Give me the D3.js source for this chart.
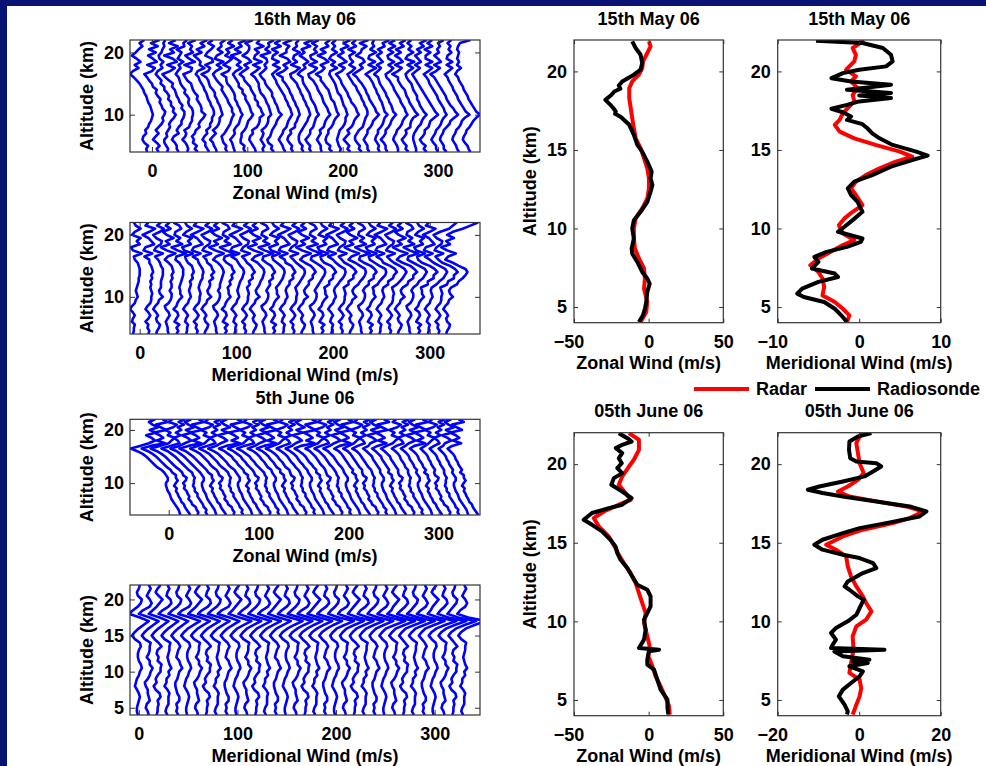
<!DOCTYPE html>
<html>
<head>
<meta charset="utf-8">
<script src="https://cdn.jsdelivr.net/npm/d3@7"></script>
<style>
  body { margin: 0; background: #081374; }
  svg text { font-family: "Liberation Sans", Arial, sans-serif; font-weight: bold; font-size: 18px; fill: #000; }
</style>
</head>
<body>
<svg id="chart" width="986" height="766"></svg>
<script>
// altitude grid of the stacked radar profiles (km)
var levels = [4,4.5,5,5.5,6,6.5,7,7.5,8,8.5,9,9.5,10,10.5,11,11.5,12,12.5,13,13.5,14,14.5,15,15.5,16,16.5,17,17.5,18,18.5,19,19.5,20,20.5,21,21.5,22];
// each profile is shifted by this much (m/s) from the previous one
var stackStep = 10;

// 16th May 06, zonal wind, one row per profile (m/s at each level)
var zonal16May = [
  [-5,-6,-4,-8,-10,-9,-6,-7,-4,-3,-1,0,1,0,-1,-2,-4,-5,-6,-8,-9,-11,-13,-16,-19,-23,-20,-14,-18,-12,-16,-21,-17,-14,-10,-13,-8],
  [-3,-5,-2,-5,-9,-6,-3,-6,-3,0,2,1,3,4,1,0,-2,-1,-4,-6,-5,-9,-10,-13,-15,-18,-10,-7,-15,-5,-9,-14,-6,-13,-4,-11,-2],
  [-4,-3,-5,-7,-7,-4,-5,-3,-1,-2,0,3,5,2,3,0,0,-3,-2,-4,-7,-7,-11,-10,-13,-16,-14,-9,-11,-8,-12,-13,-10,-9,-7,-8,-6],
  [-2,-4,-4,-6,-9,-7,-2,-4,-2,1,1,3,4,4,1,2,-1,-2,-4,-5,-6,-9,-8,-12,-16,-19,-11,-6,-14,-4,-8,-17,-7,-11,-3,-12,-5],
  [-3,-2,-3,-5,-8,-5,-4,-6,-1,0,2,2,3,3,2,-1,-2,-1,-3,-6,-5,-8,-10,-11,-12,-15,-13,-10,-12,-7,-13,-11,-9,-14,-6,-7,-3],
  [-2,-5,-3,-7,-6,-8,-5,-4,0,-1,1,4,6,2,2,1,-1,-3,-2,-5,-7,-8,-9,-13,-15,-17,-9,-8,-16,-5,-11,-15,-7,-10,-8,-12,-4],
  [0,-2,-4,-4,-7,-5,-2,-3,1,1,3,3,5,5,4,2,1,-1,-2,-3,-5,-6,-8,-10,-11,-14,-12,-5,-10,-9,-12,-16,-8,-13,-5,-9,-2],
  [-2,-3,-5,-6,-9,-6,-3,-6,-2,0,1,1,4,3,2,1,-1,-2,-4,-4,-6,-9,-10,-11,-13,-18,-11,-9,-14,-6,-7,-14,-12,-8,-5,-11,-6],
  [-1,-3,-2,-5,-6,-7,-4,-2,0,2,3,4,6,4,4,2,0,-1,-3,-5,-7,-6,-9,-12,-14,-16,-13,-7,-12,-5,-14,-12,-6,-11,-7,-8,-3],
  [-3,-4,-5,-6,-8,-5,-3,-4,-2,1,2,3,5,3,2,0,-1,-3,-3,-4,-6,-8,-11,-12,-12,-17,-10,-8,-15,-10,-6,-13,-9,-12,-4,-10,-5],
  [-2,-4,-3,-7,-7,-6,-6,-3,-1,0,1,4,6,4,3,2,0,-2,-2,-5,-5,-9,-9,-11,-13,-15,-12,-6,-11,-7,-12,-17,-7,-13,-6,-9,-1],
  [-1,-2,-4,-6,-8,-7,-4,-5,0,2,3,3,7,5,4,1,1,-2,-2,-4,-6,-7,-10,-13,-14,-18,-14,-9,-13,-6,-9,-15,-10,-8,-8,-12,-4],
  [-3,-4,-2,-4,-6,-4,-3,-5,-1,1,2,2,5,4,3,2,0,-1,-3,-6,-7,-8,-8,-10,-12,-16,-11,-7,-14,-5,-13,-12,-8,-12,-3,-10,-7],
  [-2,-5,-4,-8,-9,-6,-5,-4,-2,0,1,3,6,3,2,1,-1,-2,-4,-4,-6,-9,-11,-12,-15,-17,-13,-10,-12,-9,-10,-16,-6,-11,-7,-8,-2],
  [0,-2,-3,-5,-7,-5,-3,-2,1,2,3,5,7,6,5,3,2,0,-1,-3,-5,-7,-9,-10,-12,-14,-10,-6,-13,-7,-14,-13,-8,-14,-5,-11,-5],
  [-2,-4,-3,-6,-8,-7,-4,-5,0,0,2,3,5,4,3,1,0,-2,-3,-5,-6,-8,-10,-13,-13,-19,-12,-8,-12,-5,-8,-16,-9,-9,-6,-12,-3],
  [-1,-3,-2,-5,-6,-6,-5,-3,-1,1,3,4,6,5,4,2,1,-1,-2,-4,-5,-7,-8,-11,-14,-15,-9,-5,-14,-8,-12,-11,-5,-12,-8,-9,-6],
  [-3,-5,-4,-7,-9,-6,-4,-4,-1,0,1,2,5,3,2,1,-1,-3,-4,-5,-7,-9,-11,-12,-12,-17,-14,-9,-11,-6,-10,-15,-10,-13,-4,-10,-1],
  [-2,-3,-3,-5,-7,-5,-3,-4,0,1,2,4,7,5,4,2,0,-1,-2,-4,-6,-7,-9,-11,-15,-16,-10,-7,-15,-7,-13,-14,-7,-10,-7,-12,-5],
  [-1,-4,-3,-7,-8,-7,-5,-5,-2,0,1,3,6,4,3,2,1,-2,-3,-4,-5,-8,-10,-13,-13,-18,-12,-9,-13,-5,-9,-16,-8,-13,-5,-8,-3],
  [-3,-2,-4,-5,-6,-5,-4,-3,0,2,3,3,5,4,3,1,0,-1,-2,-5,-6,-7,-8,-10,-12,-14,-13,-6,-12,-8,-14,-12,-6,-11,-8,-11,-7],
  [-2,-5,-3,-6,-9,-6,-3,-5,-1,1,2,4,7,5,4,2,-1,-2,-4,-5,-7,-9,-11,-12,-14,-17,-11,-8,-14,-6,-10,-15,-9,-12,-4,-9,-2],
  [0,-3,-2,-5,-7,-7,-5,-3,1,2,3,4,6,6,5,3,2,0,-1,-3,-5,-6,-9,-11,-13,-15,-10,-7,-13,-9,-12,-13,-7,-14,-6,-10,-6],
  [-2,-4,-4,-6,-8,-6,-4,-4,-1,1,2,5,8,5,4,2,0,-2,-3,-5,-6,-8,-10,-13,-15,-19,-14,-9,-12,-7,-9,-16,-11,-10,-5,-12,-3],
  [-1,-3,-2,-4,-6,-5,-3,-3,0,2,3,4,7,4,3,2,1,-1,-2,-4,-5,-7,-8,-10,-12,-16,-11,-5,-13,-6,-13,-12,-5,-11,-7,-9,-7],
  [-3,-5,-5,-7,-10,-7,-5,-5,-2,0,1,3,6,3,2,1,-1,-2,-4,-5,-7,-9,-11,-12,-13,-17,-13,-10,-14,-8,-11,-14,-9,-13,-6,-8,-1],
  [-2,-2,-3,-5,-7,-6,-4,-3,0,2,3,5,8,6,5,3,1,0,-2,-4,-6,-7,-9,-11,-14,-15,-10,-7,-12,-6,-12,-13,-7,-12,-5,-11,-5],
  [-1,-4,-3,-6,-8,-5,-3,-4,1,1,2,4,9,6,4,2,0,-1,-3,-4,-5,-8,-10,-12,-12,-18,-12,-8,-15,-7,-10,-15,-9,-14,-6,-10,-4],
  [-3,-3,-4,-5,-6,-6,-5,-3,-1,2,3,5,8,5,3,1,0,-2,-2,-4,-6,-7,-8,-11,-13,-14,-11,-6,-12,-5,-14,-12,-6,-11,-8,-12,-8],
  [-2,-5,-3,-7,-9,-6,-4,-4,0,1,2,6,10,7,5,3,1,-1,-3,-5,-7,-9,-11,-13,-15,-17,-13,-9,-14,-8,-11,-14,-8,-12,-5,-9,-2],
  [0,-2,-2,-5,-7,-5,-3,-2,1,3,4,6,9,7,6,4,2,0,-1,-3,-5,-7,-9,-10,-12,-15,-10,-6,-13,-6,-13,-13,-8,-14,-6,-11,-6],
  [-1,-4,-4,-6,-8,-7,-5,-4,-1,2,3,7,11,8,6,3,1,-1,-2,-4,-6,-8,-10,-12,-14,-18,-12,-8,-14,-7,-10,-14,-9,-11,-8,-10,-4],
  [2,0,-1,-3,-5,-4,-2,-1,2,4,5,8,13,9,7,5,3,1,0,-2,-4,-5,-7,-9,-10,-13,-9,-5,-11,-5,-11,-10,-6,-9,-7,-10,-6],
  [4,2,1,-2,-4,-3,-1,0,3,5,7,10,14,10,8,6,4,2,1,-1,-3,-4,-6,-8,-9,-12,-10,-6,-10,-8,-10,-9,-8,-10,-9,-7,4]
];

// 16th May 06, meridional wind
var meridional16May = [
  [-7,-6,-6,-5,-8,-7,-5,-7,-10,-8,-5,-4,-2,-3,-4,-3,-2,-1,-1,0,0,0,-1,-2,-5,-6,2,-7,-9,0,-3,1,-8,-5,1,-4,-6],
  [-1,0,-2,-1,-4,-1,1,-1,-4,-2,1,2,2,3,2,1,2,1,3,2,4,3,2,0,0,-5,3,-6,-4,5,2,-1,-7,0,6,-4,-1],
  [-3,-2,0,1,-2,-3,-1,-3,-6,-4,-1,0,4,1,0,2,2,2,3,4,4,4,2,1,-1,-4,4,-5,-3,2,3,-3,-6,1,5,-2,2],
  [0,-1,-1,-2,-3,-1,1,0,-3,-4,0,2,3,3,1,3,3,2,4,3,5,4,3,0,-4,-1,7,-2,-8,1,-3,5,-2,-6,2,-3,1],
  [-2,0,-2,1,-4,-2,0,-1,-5,-2,-1,1,4,2,2,1,2,3,4,5,5,5,3,1,-3,-2,8,-1,-7,4,-2,2,-4,-3,3,1,-5],
  [-2,-1,-1,0,-3,-2,0,-2,-5,-3,0,1,3,2,1,2,3,2,5,4,6,5,4,0,-2,-3,5,-4,-6,3,0,4,-5,-2,4,-1,-3],
  [-1,0,-2,-1,-4,-1,1,-1,-4,-2,1,2,2,3,2,1,2,3,5,5,6,5,3,1,0,-5,3,-6,-4,5,2,-1,-7,0,6,-4,-1],
  [-3,-2,0,1,-2,-3,-1,-3,-6,-4,-1,0,4,1,0,2,3,2,6,4,7,5,4,0,-1,-4,4,-5,-3,2,3,-3,-6,1,5,-2,2],
  [0,-1,-1,-2,-3,-1,1,0,-3,-4,0,2,3,3,1,3,3,4,5,6,7,6,4,1,-4,-1,7,-2,-8,1,-3,5,-2,-6,2,-3,1],
  [-2,0,-2,1,-4,-2,0,-1,-5,-2,-1,1,4,2,2,1,4,3,6,5,8,6,5,0,-3,-2,8,-1,-7,4,-2,2,-4,-3,3,1,-5],
  [-2,-1,-1,0,-3,-2,0,-2,-5,-3,0,1,3,2,1,2,3,4,6,7,8,7,4,2,0,-5,3,-6,-4,5,2,-1,-7,0,6,-4,-1],
  [-1,0,-2,-1,-4,-1,1,-1,-4,-2,1,2,2,3,2,1,4,3,7,6,9,7,5,1,-1,-4,4,-5,-3,2,3,-3,-6,1,5,-2,2],
  [-3,-2,0,1,-2,-3,-1,-3,-6,-4,-1,0,4,1,0,2,4,5,7,8,9,8,5,2,-4,-1,7,-2,-8,1,-3,5,-2,-6,2,-3,1],
  [0,-1,-1,-2,-3,-1,1,0,-3,-4,0,2,3,3,1,3,5,4,8,7,10,8,6,1,-3,-2,8,-1,-7,4,-2,2,-4,-3,3,1,-5],
  [-2,0,-2,1,-4,-2,0,-1,-5,-2,-1,1,4,2,2,1,4,6,8,9,10,9,6,2,-2,-3,5,-4,-6,3,0,4,-5,-2,4,-1,-3],
  [-2,-1,-1,0,-3,-2,0,-2,-5,-3,0,1,3,2,1,2,5,5,9,8,11,9,7,1,0,-5,3,-6,-4,5,2,-1,-7,0,6,-4,-1],
  [-1,0,-2,-1,-4,-1,1,-1,-4,-2,1,2,2,3,2,1,4,6,8,10,11,10,6,2,-1,-4,4,-5,-3,2,3,-3,-6,1,5,-2,2],
  [-3,-2,0,1,-2,-3,-1,-3,-6,-4,-1,0,4,1,0,2,5,5,9,9,12,10,7,1,-4,-1,7,-2,-8,1,-3,5,-2,-6,2,-3,1],
  [0,-1,-1,-2,-3,-1,1,0,-3,-4,0,2,3,3,1,3,5,7,9,11,12,11,7,2,-3,-2,8,-1,-7,4,-2,2,-4,-3,3,1,-5],
  [-2,0,-2,1,-4,-2,0,-1,-5,-2,-1,1,4,2,2,1,6,6,10,10,13,11,8,1,-2,-3,5,-4,-6,3,0,4,-5,-2,4,-1,-3],
  [-2,-1,-1,0,-3,-2,0,-2,-5,-3,0,1,3,2,1,2,5,7,10,12,13,12,7,3,0,-5,3,-6,-4,5,2,-1,-7,0,6,-4,-1],
  [-1,0,-2,-1,-4,-1,1,-1,-4,-2,1,2,2,3,2,1,6,6,11,11,14,12,8,2,-1,-4,4,-5,-3,2,3,-3,-6,1,5,-2,2],
  [-3,-2,0,1,-2,-3,-1,-3,-6,-4,-1,0,4,1,0,2,6,8,11,13,14,13,8,3,-4,-1,7,-2,-8,1,-3,5,-2,-6,2,-3,1],
  [0,-1,-1,-2,-3,-1,1,0,-3,-4,0,2,3,3,1,3,7,7,12,12,15,13,9,2,-3,-2,8,-1,-7,4,-2,2,-4,-3,3,1,-5],
  [-2,0,-2,1,-4,-2,0,-1,-5,-2,-1,1,4,2,2,1,6,8,11,14,15,14,8,3,-2,-3,5,-4,-6,3,0,4,-5,-2,4,-1,-3],
  [-2,-1,-1,0,-3,-2,0,-2,-5,-3,0,1,3,2,1,2,7,7,12,13,16,14,9,2,0,-5,3,-6,-4,5,2,-1,-7,0,6,-4,-1],
  [-1,0,-2,-1,-4,-1,1,-1,-4,-2,1,2,2,3,2,1,6,9,12,14,16,14,9,3,-1,-4,4,-5,-3,2,3,-3,-6,1,5,-2,2],
  [-3,-2,0,1,-2,-3,-1,-3,-6,-4,-1,0,4,1,0,2,7,8,13,13,17,14,10,2,-4,-1,7,-2,-8,1,-3,5,-2,-6,2,-3,1],
  [0,-1,-1,-2,-3,-1,1,0,-3,-4,0,2,3,3,1,3,7,9,13,15,17,15,9,3,-3,-2,8,-1,-7,4,-2,2,-4,-3,3,1,-5],
  [-2,0,-2,1,-4,-2,0,-1,-5,-2,-1,1,4,2,2,1,8,8,14,14,18,15,10,2,-2,-3,5,-4,-6,3,0,4,-5,-2,4,-1,-3],
  [-2,-1,-1,0,-3,-2,0,-2,-5,-3,0,1,3,2,1,2,7,10,14,16,18,16,10,4,0,-5,3,-6,-4,5,2,-1,-7,0,6,-4,-1],
  [-1,0,-2,-1,-4,-1,1,-1,-4,-2,1,2,2,3,2,1,8,9,15,15,19,16,11,3,-1,-4,4,-5,-3,2,3,-3,-6,1,10,14,18],
  [-3,-2,0,1,-2,-3,-1,-3,-6,-4,-1,0,4,1,0,2,8,10,14,17,19,17,10,4,-4,-1,7,-2,-8,1,-3,5,-2,4,14,22,30]
];

// 5th June 06, zonal wind
var zonal5June = [
  [13,12,11,9,7,5,3,2,1,-1,-2,-3,-3,-1,-1,-3,-5,-8,-13,-16,-19,-22,-25,-29,-35,-42,-32,-22,-15,-19,-25,-14,-21,-12,-18,-22,-15],
  [14,12,10,8,7,4,3,1,0,-2,-1,-4,-2,0,-2,-2,-6,-8,-12,-15,-18,-21,-24,-28,-33,-40,-30,-14,-23,-16,-20,-26,-13,-19,-24,-11,-17],
  [12,13,11,10,6,5,2,3,1,0,-3,-2,-4,-1,0,-4,-5,-8,-12,-15,-18,-21,-24,-28,-33,-40,-30,-20,-17,-13,-21,-18,-24,-15,-11,-20,-16],
  [13,11,12,9,8,6,4,2,2,-1,-1,-3,-2,-2,-1,-3,-4,-8,-11,-14,-17,-20,-23,-27,-31,-38,-28,-18,-20,-24,-17,-22,-16,-20,-13,-19,-12],
  [13,12,11,9,7,5,3,2,1,-1,-2,-3,-3,-1,-1,-3,-5,-8,-11,-14,-17,-20,-23,-27,-31,-38,-28,-22,-15,-19,-25,-14,-21,-12,-18,-22,-15],
  [14,12,10,8,7,4,3,1,0,-2,-1,-4,-2,0,-2,-2,-6,-8,-11,-14,-17,-20,-23,-27,-31,-38,-28,-14,-23,-16,-20,-26,-13,-19,-24,-11,-17],
  [12,13,11,10,6,5,2,3,1,0,-3,-2,-4,-1,0,-4,-5,-7,-11,-14,-16,-19,-22,-25,-30,-36,-27,-20,-17,-13,-21,-18,-24,-15,-11,-20,-16],
  [13,11,12,9,8,6,4,2,2,-1,-1,-3,-2,-2,-1,-3,-4,-7,-11,-14,-16,-19,-22,-25,-30,-36,-27,-18,-20,-24,-17,-22,-16,-20,-13,-19,-12],
  [13,12,11,9,7,5,3,2,1,-1,-2,-3,-3,-1,-1,-3,-5,-7,-11,-14,-16,-19,-22,-25,-30,-36,-27,-22,-15,-19,-25,-14,-21,-12,-18,-22,-15],
  [14,12,10,8,7,4,3,1,0,-2,-1,-4,-2,0,-2,-2,-6,-7,-10,-13,-15,-18,-20,-24,-28,-34,-26,-11,-20,-13,-17,-23,-10,-16,-21,-8,-14],
  [12,13,11,10,6,5,2,3,1,0,-3,-2,-4,-1,0,-4,-5,-7,-10,-13,-15,-18,-20,-24,-28,-34,-26,-17,-14,-10,-18,-15,-21,-12,-8,-17,-13],
  [13,11,12,9,8,6,4,2,2,-1,-1,-3,-2,-2,-1,-3,-4,-7,-10,-13,-15,-18,-20,-24,-28,-34,-26,-15,-17,-21,-14,-19,-13,-17,-10,-16,-9],
  [13,12,11,9,7,5,3,2,1,-1,-2,-3,-3,-1,-1,-3,-5,-6,-10,-12,-14,-17,-19,-22,-26,-32,-24,-19,-12,-16,-22,-11,-18,-9,-15,-19,-12],
  [14,12,10,8,7,4,3,1,0,-2,-1,-4,-2,0,-2,-2,-6,-6,-10,-12,-14,-17,-19,-22,-26,-32,-24,-11,-20,-13,-17,-23,-10,-16,-21,-8,-14],
  [12,13,11,10,6,5,2,3,1,0,-3,-2,-4,-1,0,-4,-5,-6,-10,-12,-14,-17,-19,-22,-26,-32,-24,-17,-14,-10,-18,-15,-21,-12,-8,-17,-13],
  [13,11,12,9,8,6,4,2,2,-1,-1,-3,-2,-2,-1,-3,-4,-6,-9,-11,-14,-16,-18,-21,-25,-30,-23,-15,-17,-21,-14,-19,-13,-17,-10,-16,-9],
  [13,12,11,9,7,5,3,2,1,-1,-2,-3,-3,-1,-1,-3,-5,-6,-9,-11,-14,-16,-18,-21,-25,-30,-23,-19,-12,-16,-22,-11,-18,-9,-15,-19,-12],
  [14,12,10,8,7,4,3,1,0,-2,-1,-4,-2,0,-2,-2,-6,-6,-9,-11,-14,-16,-18,-21,-25,-30,-23,-8,-17,-10,-14,-20,-7,-13,-18,-5,-11],
  [12,13,11,10,6,5,2,3,1,0,-3,-2,-4,-1,0,-4,-5,-6,-8,-11,-13,-15,-17,-20,-23,-28,-21,-14,-11,-7,-15,-12,-18,-9,-5,-14,-10],
  [13,11,12,9,8,6,4,2,2,-1,-1,-3,-2,-2,-1,-3,-4,-6,-8,-11,-13,-15,-17,-20,-23,-28,-21,-12,-14,-18,-11,-16,-10,-14,-7,-13,-6],
  [13,12,11,9,7,5,3,2,1,-1,-2,-3,-3,-1,-1,-3,-5,-6,-8,-11,-13,-15,-17,-20,-23,-28,-21,-16,-9,-13,-19,-8,-15,-6,-12,-16,-9],
  [14,12,10,8,7,4,3,1,0,-2,-1,-4,-2,0,-2,-2,-6,-5,-8,-10,-12,-14,-16,-18,-21,-26,-20,-8,-17,-10,-14,-20,-7,-13,-18,-5,-11],
  [12,13,11,10,6,5,2,3,1,0,-3,-2,-4,-1,0,-4,-5,-5,-8,-10,-12,-14,-16,-18,-21,-26,-20,-14,-11,-7,-15,-12,-18,-9,-5,-14,-10],
  [13,11,12,9,8,6,4,2,2,-1,-1,-3,-2,-2,-1,-3,-4,-5,-8,-10,-12,-14,-16,-18,-21,-26,-20,-12,-14,-18,-11,-16,-10,-14,-7,-13,-6],
  [13,12,11,9,7,5,3,2,1,-1,-2,-3,-3,-1,-1,-3,-5,-5,-7,-9,-11,-13,-14,-17,-20,-24,-18,-16,-9,-13,-19,-8,-15,-6,-12,-16,-9],
  [14,12,10,8,7,4,3,1,0,-2,-1,-4,-2,0,-2,-2,-6,-5,-7,-9,-11,-13,-14,-17,-20,-24,-18,-8,-17,-10,-14,-20,-7,-13,-18,-5,-11],
  [12,13,11,10,6,5,2,3,1,0,-3,-2,-4,-1,0,-4,-5,-5,-7,-9,-11,-13,-14,-17,-20,-24,-18,-11,-8,-4,-12,-9,-15,-6,-2,-11,-7],
  [13,11,12,9,8,6,4,2,2,-1,-1,-3,-2,-2,-1,-3,-4,-4,-7,-8,-10,-12,-13,-15,-18,-22,-17,-9,-11,-15,-8,-13,-7,-11,-4,-10,-3],
  [13,12,11,9,7,5,3,2,1,-1,-2,-3,-3,-1,-1,-3,-5,-4,-7,-8,-10,-12,-13,-15,-18,-22,-17,-13,-6,-10,-16,-5,-12,-3,-9,-13,-6],
  [14,12,10,8,7,4,3,1,0,-2,-1,-4,-2,0,-2,-2,-6,-4,-7,-8,-10,-12,-13,-15,-18,-22,-17,-5,-14,-7,-11,-17,-4,-10,-15,-2,-8],
  [12,13,11,10,6,5,2,3,1,0,-3,-2,-4,-1,0,-4,-5,-4,-6,-8,-9,-11,-12,-14,-17,-20,-15,-11,-8,-4,-12,-9,-15,-6,-2,-11,-7],
  [13,11,12,9,8,6,4,2,2,-1,-1,-3,-2,-2,-1,-3,-4,-4,-6,-8,-9,-11,-12,-14,-17,-20,-15,-9,-11,-15,-8,-13,-7,-11,-4,-10,-3],
  [13,12,11,9,7,5,3,2,1,-1,-2,-3,-3,-1,-1,-3,-5,-4,-6,-8,-9,-11,-12,-14,-17,-20,-15,-13,-6,-10,-16,-5,-12,-3,-9,-13,-6],
  [14,12,10,8,7,4,3,1,0,-2,-1,-4,-2,0,-2,-2,-6,-4,-6,-8,-9,-11,-12,-14,-17,-20,-15,-5,-14,-7,-11,-17,-4,-10,-15,-2,-8]
];

// 5th June 06, meridional wind
var meridional5June = [
  [-1,-2,-2,-1,0,1,0,-2,-4,-3,-2,0,1,3,2,0,-1,-1,0,2,1,-4,-7,-4,0,5,10,1,-10,-6,-1,2,3,-1,-2,0,1],
  [0,-1,-3,-2,1,0,-1,-1,-3,-4,-1,1,2,4,1,1,-2,0,1,1,2,-4,-7,-4,0,5,10,1,-10,-6,1,3,1,-2,0,2,0],
  [-2,-1,-1,0,-1,2,1,-3,-5,-2,-3,-1,2,2,3,-1,0,-2,-1,3,0,-4,-7,-4,0,5,10,1,-10,-6,-2,1,4,0,-3,-1,2],
  [-1,-3,-2,0,0,0,1,-1,-4,-2,-2,1,0,3,1,0,-1,0,1,1,2,-4,-7,-4,0,5,10,1,-10,-6,0,3,2,-2,-1,1,-1],
  [0,-2,-1,-2,1,1,-1,-2,-3,-3,-1,0,1,4,2,1,-2,-1,0,2,0,-4,-7,-4,0,5,10,1,-10,-6,-1,2,3,-1,-2,0,1],
  [-1,-2,-2,-1,0,1,0,-2,-4,-3,-2,0,1,3,2,0,-1,-1,0,2,1,-4,-7,-4,0,6,12,2,-10,-6,1,3,1,-2,0,2,0],
  [0,-1,-3,-2,1,0,-1,-1,-3,-4,-1,1,2,4,1,1,-2,0,1,1,2,-4,-7,-4,0,6,12,2,-10,-6,-2,1,4,0,-3,-1,2],
  [-2,-1,-1,0,-1,2,1,-3,-5,-2,-3,-1,2,2,3,-1,0,-2,-1,3,0,-4,-7,-4,0,6,12,2,-10,-6,0,3,2,-2,-1,1,-1],
  [-1,-3,-2,0,0,0,1,-1,-4,-2,-2,1,0,3,1,0,-1,0,1,1,2,-4,-7,-4,0,6,12,2,-10,-6,-1,2,3,-1,-2,0,1],
  [0,-2,-1,-2,1,1,-1,-2,-3,-3,-1,0,1,4,2,1,-2,-1,0,2,0,-4,-7,-4,0,6,12,2,-10,-6,1,3,1,-2,0,2,0],
  [-1,-2,-2,-1,0,1,0,-2,-4,-3,-2,0,1,3,2,0,-1,-1,0,2,1,-4,-7,-4,0,7,14,2,-9,-5,-2,1,4,0,-3,-1,2],
  [0,-1,-3,-2,1,0,-1,-1,-3,-4,-1,1,2,4,1,1,-2,0,1,1,2,-4,-7,-4,0,7,14,2,-9,-5,0,3,2,-2,-1,1,-1],
  [-2,-1,-1,0,-1,2,1,-3,-5,-2,-3,-1,2,2,3,-1,0,-2,-1,3,0,-4,-7,-4,0,7,14,2,-9,-5,-1,2,3,-1,-2,0,1],
  [-1,-3,-2,0,0,0,1,-1,-4,-2,-2,1,0,3,1,0,-1,0,1,1,2,-4,-7,-4,0,7,14,2,-9,-5,1,3,1,-2,0,2,0],
  [0,-2,-1,-2,1,1,-1,-2,-3,-3,-1,0,1,4,2,1,-2,-1,0,2,0,-4,-7,-4,0,7,14,2,-9,-5,-2,1,4,0,-3,-1,2],
  [-1,-2,-2,-1,0,1,0,-2,-4,-3,-2,0,1,3,2,0,-1,-1,0,2,1,-4,-7,-4,1,8,16,3,-9,-5,0,3,2,-2,-1,1,-1],
  [0,-1,-3,-2,1,0,-1,-1,-3,-4,-1,1,2,4,1,1,-2,0,1,1,2,-4,-7,-4,1,8,16,3,-9,-5,-1,2,3,-1,-2,0,1],
  [-2,-1,-1,0,-1,2,1,-3,-5,-2,-3,-1,2,2,3,-1,0,-2,-1,3,0,-4,-7,-4,1,8,16,3,-9,-5,1,3,1,-2,0,2,0],
  [-1,-3,-2,0,0,0,1,-1,-4,-2,-2,1,0,3,1,0,-1,0,1,1,2,-4,-7,-4,1,8,16,3,-9,-5,-2,1,4,0,-3,-1,2],
  [0,-2,-1,-2,1,1,-1,-2,-3,-3,-1,0,1,4,2,1,-2,-1,0,2,0,-4,-7,-4,1,8,16,3,-9,-5,0,3,2,-2,-1,1,-1],
  [-1,-2,-2,-1,0,1,0,-2,-4,-3,-2,0,1,3,2,0,-1,-1,0,2,1,-4,-6,-3,1,9,18,3,-8,-5,-1,2,3,-1,-2,0,1],
  [0,-1,-3,-2,1,0,-1,-1,-3,-4,-1,1,2,4,1,1,-2,0,1,1,2,-4,-6,-3,1,9,18,3,-8,-5,1,3,1,-2,0,2,0],
  [-2,-1,-1,0,-1,2,1,-3,-5,-2,-3,-1,2,2,3,-1,0,-2,-1,3,0,-4,-6,-3,1,9,18,3,-8,-5,-2,1,4,0,-3,-1,2],
  [-1,-3,-2,0,0,0,1,-1,-4,-2,-2,1,0,3,1,0,-1,0,1,1,2,-4,-6,-3,1,9,18,3,-8,-5,0,3,2,-2,-1,1,-1],
  [0,-2,-1,-2,1,1,-1,-2,-3,-3,-1,0,1,4,2,1,-2,-1,0,2,0,-4,-6,-3,1,9,18,3,-8,-5,-1,2,3,-1,-2,0,1],
  [-1,-2,-2,-1,0,1,0,-2,-4,-3,-2,0,1,3,2,0,-1,-1,0,2,1,-3,-6,-3,1,10,20,4,-8,-4,1,3,1,-2,0,2,0],
  [0,-1,-3,-2,1,0,-1,-1,-3,-4,-1,1,2,4,1,1,-2,0,1,1,2,-3,-6,-3,1,10,20,4,-8,-4,-2,1,4,0,-3,-1,2],
  [-2,-1,-1,0,-1,2,1,-3,-5,-2,-3,-1,2,2,3,-1,0,-2,-1,3,0,-3,-6,-3,1,10,20,4,-8,-4,0,3,2,-2,-1,1,-1],
  [-1,-3,-2,0,0,0,1,-1,-4,-2,-2,1,0,3,1,0,-1,0,1,1,2,-3,-6,-3,1,10,20,4,-8,-4,-1,2,3,-1,-2,0,1],
  [0,-2,-1,-2,1,1,-1,-2,-3,-3,-1,0,1,4,2,1,-2,-1,0,2,0,-3,-6,-3,1,10,20,4,-8,-4,1,3,1,-2,0,2,0],
  [-1,-2,-2,-1,0,1,0,-2,-4,-3,-2,0,1,3,2,0,-1,-1,0,2,1,-3,-6,-3,2,11,22,4,-7,-4,-2,1,4,0,-3,-1,2],
  [0,-1,-3,-2,1,0,-1,-1,-3,-4,-1,1,2,4,1,1,-2,0,1,1,2,-3,-6,-3,2,11,22,4,-7,-4,0,3,2,-2,-1,1,-1],
  [-2,-1,-1,0,-1,2,1,-3,-5,-2,-3,-1,2,2,3,-1,0,-2,-1,3,0,-3,-6,-3,2,11,22,4,-7,-4,-1,2,3,-1,-2,0,1],
  [-1,-3,-2,0,0,0,1,-1,-4,-2,-2,1,0,3,1,0,-1,0,1,1,2,-3,-6,-3,2,11,22,4,-7,-4,1,3,1,-2,0,2,0]
];

// radar vs radiosonde comparison profiles: [altitude km, wind m/s]
var zonal15MayRadar = [[21.91,0.2],[21.6,1.3],[21.17,-0.9],[20.64,-3.8],[20.21,-4.3],[19.79,-6.5],[19.36,-11],[18.94,-13],[18.3,-13],[17.66,-12],[17.02,-11],[16.38,-9.9],[15.74,-8.7],[15.11,-5.4],[14.47,-3.1],[13.83,-0.9],[13.19,0.2],[12.55,0.2],[11.91,-0.9],[11.28,-4.3],[10.64,-8.7],[10.0,-9.9],[9.36,-9.9],[8.72,-9.2],[8.09,-6.5],[7.45,-3.1],[6.81,-2.5],[6.17,-3.1],[5.32,-0.9],[4.68,-1.6],[4.04,-5.4]];
var zonal15MaySonde = [[21.91,-11],[21.49,-8.7],[21.06,-5.4],[20.53,-4.3],[20.11,-5.4],[19.79,-9.9],[19.36,-17.7],[19.1,-20],[18.9,-19],[18.72,-23],[18.5,-25],[18.19,-29],[17.87,-25.6],[17.7,-24],[17.45,-22],[17.3,-22.5],[17.15,-19.5],[17.02,-17.7],[16.6,-13],[15.96,-9.9],[15.32,-7.6],[14.89,-4.3],[14.26,-0.9],[13.62,2],[13.19,1.3],[12.77,2.5],[12.34,1.3],[11.7,-0.9],[11.06,-5.4],[10.53,-9.9],[10.0,-11],[9.36,-9.9],[8.72,-11.4],[8.4,-11],[7.87,-7.6],[7.23,-4.3],[6.81,-0.9],[6.49,0.7],[5.96,-0.9],[5.32,-1.6],[4.89,-2.5],[4.47,-3.8],[4.04,-6.5]];
var meridional15MayRadar = [[21.96,0.6],[21.49,-0.8],[21.06,-0.4],[20.64,-0.6],[20.11,-1.6],[19.68,-0.4],[19.36,-1.0],[18.94,-0.2],[18.51,-0.8],[18.09,-0.6],[17.77,-1.2],[17.34,-2.0],[16.91,-2.4],[16.6,-3.0],[16.17,-2.4],[15.74,-0.6],[15.32,2.0],[14.89,5.0],[14.57,6.5],[14.26,4.5],[13.83,2.5],[13.4,0.8],[12.98,-0.4],[12.55,-1.0],[12.13,-0.4],[11.49,0.4],[11.06,-0.8],[10.64,-1.8],[10.21,-2.5],[9.68,-2.0],[9.26,-0.6],[8.94,-2.0],[8.51,-3.5],[8.09,-5.0],[7.66,-6.0],[7.23,-5.0],[6.81,-4.5],[6.28,-4.3],[5.74,-4.5],[5.32,-3.0],[4.89,-2.0],[4.47,-1.2],[4.04,-1.5]];
var meridional15MaySonde = [[21.96,-5.3],[21.81,0.4],[21.49,2.9],[21.06,3.9],[20.64,4.1],[20.32,3.3],[20.11,0],[19.89,-2.0],[19.57,-3.4],[19.36,-1.0],[19.15,3.9],[18.98,1.0],[18.83,-1.5],[18.62,3.9],[18.47,0],[18.3,3.9],[18.09,0],[17.87,-1.5],[17.62,-3.4],[17.4,-2.0],[17.13,-1.0],[16.91,-1.5],[16.64,0.4],[16.38,1.0],[16.06,1.6],[15.74,2.5],[15.32,4.1],[14.89,7.0],[14.64,8.4],[14.36,6.5],[13.94,3.9],[13.4,1.6],[12.98,-0.6],[12.55,-1.4],[12.13,-1.0],[11.7,-0.2],[11.06,0.4],[10.53,-0.8],[10.11,-1.8],[9.79,-2.6],[9.36,0.4],[9.15,0.2],[8.83,-1.5],[8.51,-4.0],[8.19,-5.5],[7.87,-5.0],[7.45,-5.8],[7.13,-3.0],[6.91,-2.6],[6.6,-5.0],[6.17,-7.0],[5.85,-7.6],[5.64,-6.8],[5.32,-4.3],[4.89,-3.0],[4.47,-2.2],[4.04,-1.5]];
var zonal5JuneRadar = [[21.97,-13.2],[21.55,-6.5],[20.91,-6.5],[20.28,-9.9],[19.85,-13.2],[19.22,-17.7],[18.69,-20],[18.16,-15.5],[17.73,-12.1],[17.42,-20],[16.99,-30],[16.57,-36.8],[16.04,-33.4],[15.4,-26.7],[14.66,-22.2],[14.24,-20],[13.71,-16.6],[13.07,-12.1],[12.44,-8.7],[11.8,-6.5],[11.17,-4.3],[10.53,-2],[9.89,-3.1],[9.05,-0.9],[8.41,0.7],[7.78,-0.2],[7.14,2.5],[6.5,4.7],[5.87,8],[5.23,11],[4.6,13.7],[4.07,14.1]];
var zonal5JuneSonde = [[21.97,-20],[21.65,-14.3],[21.44,-11.4],[21.23,-17.7],[21.02,-22],[20.7,-17.7],[20.38,-20],[20.06,-18],[19.75,-21],[19.43,-17.7],[19.11,-23.3],[18.69,-25],[18.26,-17.7],[17.84,-11.4],[17.42,-17.7],[17.2,-26.7],[16.89,-37.9],[16.46,-43.5],[16.14,-37.9],[15.72,-31.2],[15.19,-25.6],[14.77,-22.2],[14.34,-21],[13.92,-18.8],[13.39,-14.3],[12.86,-11],[12.33,-7.6],[12.01,-0.9],[11.59,1.3],[10.95,1.3],[10.53,-0.9],[10.11,-3.1],[9.47,-2],[8.84,-3.1],[8.31,-6.5],[8.2,7],[8.1,0.2],[7.57,-0.9],[7.25,-0.9],[6.93,3.6],[6.29,5.8],[5.66,8],[5.02,12.6],[4.49,12.6],[4.07,13.2]];
var meridional5JuneRadar = [[21.97,0.5],[21.33,-0.7],[20.7,-0.3],[20.06,0.1],[19.43,1.1],[19.0,-0.3],[18.58,-2.8],[18.26,-5.2],[17.94,-2.4],[17.63,4.2],[17.31,11.6],[16.99,15.7],[16.57,12.4],[16.25,8.3],[15.83,0.9],[15.4,-4.0],[14.87,-8.1],[14.56,-5.7],[14.13,-3.2],[13.5,-2.8],[12.86,-2.0],[12.22,-0.7],[11.59,0.9],[11.17,1.7],[10.64,3.0],[10.11,1.7],[9.68,-0.7],[9.05,-1.6],[8.2,-1.4],[7.35,-2.0],[6.72,-2.4],[6.29,0.1],[5.76,0.5],[5.23,0.1],[4.7,-0.7],[4.07,-1.6]];
var meridional5JuneSonde = [[21.97,3.0],[21.76,-0.3],[21.44,-2.4],[20.91,-2.5],[20.38,-2.2],[20.17,-0.7],[20.06,4.2],[19.85,5.4],[19.53,3.4],[19.22,1.3],[18.9,-4.0],[18.58,-9.8],[18.37,-12.6],[18.16,-9.0],[17.94,-4.0],[17.63,4.2],[17.31,12.4],[16.99,16.5],[16.67,14.8],[16.25,6.6],[15.93,0.1],[15.61,-4.0],[15.19,-9.0],[14.87,-11.0],[14.56,-9.0],[14.24,-4.0],[14.03,0.1],[13.71,3.4],[13.39,4.2],[13.07,0.9],[12.54,-2.8],[12.22,-3.6],[12.01,-2.4],[11.59,-0.3],[11.38,1.1],[10.85,0.1],[10.42,-0.7],[10.0,-2.8],[9.58,-5.7],[9.26,-6.9],[8.83,-5.7],[8.52,-6.5],[8.31,-6.9],[8.2,6.2],[8.09,-6.1],[7.78,-4.0],[7.56,2.5],[7.46,-1.6],[7.35,2.1],[7.14,-2.4],[6.82,0.9],[6.5,0.1],[6.08,-2.0],[5.66,-4.0],[5.23,-5.0],[4.7,-3.6],[4.28,-2.8],[4.07,-3.0]];

var svg = d3.select("#chart");
svg.append("rect").attr("x", 7).attr("y", 6).attr("width", 979).attr("height", 760).attr("fill", "#fff");

var clipCount = 0;

// one MATLAB-style box: inward ticks on all four sides
function panel(p) {
  var x = d3.scaleLinear().domain(p.xDomain).range([p.x0, p.x1]);
  var y = d3.scaleLinear().domain([4, 22]).range([p.y1, p.y0]);
  var id = "clip" + (clipCount++);
  svg.append("clipPath").attr("id", id).append("rect")
    .attr("x", p.x0).attr("y", p.y0).attr("width", p.x1 - p.x0).attr("height", p.y1 - p.y0);
  var plot = svg.append("g").attr("clip-path", "url(#" + id + ")");
  var g = svg.append("g");

  function tidy(a) {
    a.select(".domain").remove();
    a.selectAll("line").attr("stroke", "#333");
  }
  g.append("g").attr("transform", "translate(0," + p.y1 + ")")
    .call(d3.axisBottom(x).tickValues(p.xTicks).tickSizeInner(-p.tick).tickSizeOuter(0).tickPadding(12.2))
    .call(tidy)
    .selectAll("text").attr("dx", function(d) { return d < 0 ? -5.5 : 0; });
  g.append("g").attr("transform", "translate(0," + p.y0 + ")")
    .call(d3.axisTop(x).tickValues(p.xTicks).tickSizeInner(-p.tick).tickSizeOuter(0).tickFormat(""))
    .call(tidy);
  g.append("g").attr("transform", "translate(" + p.x0 + ",0)")
    .call(d3.axisLeft(y).tickValues(p.yTicks).tickSizeInner(-p.tick).tickSizeOuter(0).tickPadding(p.pad))
    .call(tidy);
  g.append("g").attr("transform", "translate(" + p.x1 + ",0)")
    .call(d3.axisRight(y).tickValues(p.yTicks).tickSizeInner(-p.tick).tickSizeOuter(0).tickFormat(""))
    .call(tidy);

  g.append("rect").attr("x", p.x0).attr("y", p.y0).attr("width", p.x1 - p.x0).attr("height", p.y1 - p.y0)
    .attr("fill", "none").attr("stroke", "#333").attr("stroke-width", 1.2);

  var cx = (p.x0 + p.x1) / 2;
  if (p.title) g.append("text").attr("x", cx).attr("y", p.y0 - 15.5).attr("text-anchor", "middle").text(p.title);
  g.append("text").attr("x", cx).attr("y", p.y1 + 46.5).attr("text-anchor", "middle").text(p.xLabel);
  if (p.yLabelX) {
    g.append("text").attr("text-anchor", "middle")
      .attr("transform", "translate(" + p.yLabelX + "," + ((p.y0 + p.y1) / 2) + ") rotate(-90)")
      .text("Altitude (km)");
  }
  return { x: x, y: y, plot: plot, top: g };
}

// stacked radar profiles (left column)
var stacked = [
  { rows: zonal16May, x0: 130, x1: 480, y0: 40, y1: 152, xDomain: [-23, 344], yTicks: [10, 20], title: "16th May 06", xLabel: "Zonal Wind (m/s)" },
  { rows: meridional16May, x0: 130, x1: 480, y0: 222.5, y1: 334, xDomain: [-10, 352], yTicks: [10, 20], title: null, xLabel: "Meridional Wind (m/s)" },
  { rows: zonal5June, x0: 130, x1: 480, y0: 419.3, y1: 515, xDomain: [-43, 346], yTicks: [10, 20], title: "5th June 06", xLabel: "Zonal Wind (m/s)" },
  { rows: meridional5June, x0: 130, x1: 480, y0: 585, y1: 715, xDomain: [-9, 346], yTicks: [5, 10, 15, 20], title: null, xLabel: "Meridional Wind (m/s)" }
];

stacked.forEach(function(p) {
  p.xTicks = [0, 100, 200, 300];
  p.tick = 5; p.pad = 6; p.yLabelX = 93;
  var s = panel(p);
  p.rows.forEach(function(row, i) {
    var shift = i * stackStep;
    var line = d3.line()
      .defined(function(v, j) { return j < levels.length; })
      .x(function(v) { return s.x(v + shift); })
      .y(function(v, j) { return s.y(levels[j]); });
    s.plot.append("path").datum(row).attr("d", line)
      .attr("fill", "none").attr("stroke", "#0000ff").attr("stroke-width", 2.6)
      .attr("stroke-linejoin", "round");
  });
});

// radar vs radiosonde (right column)
var compare = [
  { radar: zonal15MayRadar, sonde: zonal15MaySonde, x0: 574, x1: 723.3, y0: 40, y1: 322.7, xDomain: [-50, 50], xTicks: [-50, 0, 50], title: "15th May 06", xLabel: "Zonal Wind (m/s)", yLabelX: 536 },
  { radar: meridional15MayRadar, sonde: meridional15MaySonde, x0: 777.7, x1: 940.7, y0: 40, y1: 322.7, xDomain: [-10, 10], xTicks: [-10, 0, 10], title: "15th May 06", xLabel: "Meridional Wind (m/s)" },
  { radar: zonal5JuneRadar, sonde: zonal5JuneSonde, x0: 574, x1: 723.3, y0: 432.7, y1: 715.7, xDomain: [-50, 50], xTicks: [-50, 0, 50], title: "05th June 06", xLabel: "Zonal Wind (m/s)", yLabelX: 536 },
  { radar: meridional5JuneRadar, sonde: meridional5JuneSonde, x0: 777.7, x1: 940.7, y0: 432.7, y1: 715.7, xDomain: [-20, 20], xTicks: [-20, 0, 20], title: "05th June 06", xLabel: "Meridional Wind (m/s)" }
];

compare.forEach(function(p) {
  p.yTicks = [5, 10, 15, 20];
  p.tick = 4; p.pad = 7;
  var s = panel(p);
  var line = d3.line().x(function(d) { return s.x(d[1]); }).y(function(d) { return s.y(d[0]); });
  s.plot.append("path").datum(p.radar).attr("d", line)
    .attr("fill", "none").attr("stroke", "#ff0000").attr("stroke-width", 4).attr("stroke-linejoin", "round");
  s.plot.append("path").datum(p.sonde).attr("d", line)
    .attr("fill", "none").attr("stroke", "#000").attr("stroke-width", 4).attr("stroke-linejoin", "round");
});

// legend
var legend = svg.append("g");
[{ name: "Radar", color: "#ff0000", x: 694 }, { name: "Radiosonde", color: "#000", x: 815 }].forEach(function(d) {
  legend.append("line").attr("x1", d.x).attr("x2", d.x + 55).attr("y1", 389).attr("y2", 389)
    .attr("stroke", d.color).attr("stroke-width", 4);
  legend.append("text").attr("x", d.x + 62).attr("y", 395).text(d.name);
});
</script>
</body>
</html>
